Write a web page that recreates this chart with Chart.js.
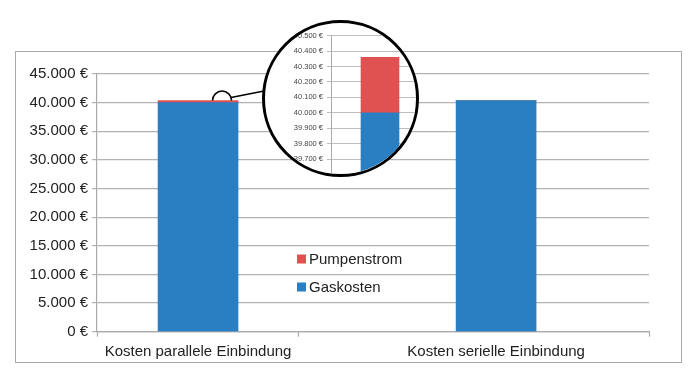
<!DOCTYPE html>
<html>
<head>
<meta charset="utf-8">
<script src="https://cdn.jsdelivr.net/npm/chart.js@4.4.1/dist/chart.umd.min.js"></script>
<style>
  body { margin: 0; background: #fff; }
  #wrap { position: relative; width: 700px; height: 378px; }
  #frame { position: absolute; left: 15px; top: 51px; width: 665px; height: 310px; border: 1.5px solid #aaa; }
  #main { position: absolute; left: 0; top: 0; }
  #lupe { position: absolute; left: 262px; top: 20px; width: 151px; height: 151px; border: 3px solid #000;
          border-radius: 50%; overflow: hidden; background: #fff; }
  #inset { position: absolute; left: 0; top: 0; }
</style>
</head>
<body>
<div id="wrap">
  <div id="frame"></div>
  <canvas id="main" width="700" height="378"></canvas>
  <div id="lupe"><canvas id="inset" width="164" height="160"></canvas></div>
</div>
<script>
// Daten
const categories = ['Kosten parallele Einbindung', 'Kosten serielle Einbindung'];
const gaskosten = [40000, 40350];
const pumpenstrom = [360, 0];
const mainTicks = [0, 5000, 10000, 15000, 20000, 25000, 30000, 35000, 40000, 45000];
const insetTicks = [39600, 39700, 39800, 39900, 40000, 40100, 40200, 40300, 40400, 40500];

const slots = [1, 2];          // Position der Balken auf der x-Achse
const xMin = 0.661, xMax = 2.513, xMid = 1.336;

const blue = '#2a7fc2';
const red = '#e05252';
const font = "'Liberation Sans', Arial, sans-serif";

const euro = v => v.toLocaleString('de-DE') + ' €';

// Legende im Diagramm (Pumpenstrom oben)
const legendPlugin = {
    id: 'innerLegend',
    afterDraw(chart) {
        const ctx = chart.ctx;
        const items = chart.data.datasets.slice().reverse();
        ctx.save();
        ctx.font = '15px ' + font;
        ctx.textBaseline = 'middle';
        items.forEach((ds, i) => {
            const y = 259 + i * 28;
            ctx.fillStyle = ds.backgroundColor;
            ctx.fillRect(297, y - 4.5, 9, 9);
            ctx.fillStyle = '#222';
            ctx.fillText(ds.label, 309, y + 1);
        });
        ctx.restore();
    }
};

// kleiner Kreis + Linie zur Lupe
const connectorPlugin = {
    id: 'connector',
    afterDraw(chart) {
        const ctx = chart.ctx;
        const x = chart.scales.x.getPixelForValue(slots[0]) + 24;
        const y = chart.scales.y.getPixelForValue(gaskosten[0] + pumpenstrom[0]);
        ctx.save();
        ctx.strokeStyle = '#000';
        ctx.lineWidth = 1.5;
        ctx.beginPath();
        ctx.arc(x, y, 9.5, Math.PI, 2 * Math.PI);
        ctx.stroke();
        ctx.beginPath();
        ctx.moveTo(x + 9, y - 3);
        ctx.lineTo(264, 91);
        ctx.stroke();
        ctx.restore();
    }
};

const mainChart = new Chart(document.getElementById('main'), {
    type: 'bar',
    data: {
        datasets: [{
            label: 'Gaskosten',
            data: slots.map((s, i) => ({ x: s, y: gaskosten[i] })),
            backgroundColor: blue,
            barThickness: 80
        }, {
            label: 'Pumpenstrom',
            data: slots.map((s, i) => ({ x: s, y: pumpenstrom[i] })),
            backgroundColor: red,
            barThickness: 80
        }]
    },
    options: {
        responsive: false,
        animation: false,
        layout: { padding: { left: 0, right: 51, top: 74, bottom: 0 } },
        plugins: { legend: { display: false }, tooltip: { enabled: false } },
        scales: {
            x: {
                type: 'linear',
                stacked: true,
                offset: false,
                min: xMin,
                max: xMax,
                afterBuildTicks: scale => {
                    scale.ticks = [xMin, slots[0], xMid, slots[1], xMax].map(v => ({ value: v }));
                },
                afterFit: scale => { scale.height = 46.3; },
                grid: {
                    offset: false,
                    drawOnChartArea: false,
                    drawTicks: true,
                    tickLength: 5,
                    tickWidth: 1.2,
                    tickColor: c => (c.tick && slots.includes(c.tick.value)) ? 'rgba(0,0,0,0)' : '#aaa'
                },
                border: { display: true, color: '#aaa', width: 1.2 },
                ticks: {
                    autoSkip: false,
                    maxRotation: 0,
                    padding: 6,
                    color: '#222',
                    font: { family: font, size: 15 },
                    callback: v => {
                        const i = slots.indexOf(v);
                        return i >= 0 ? categories[i] : '';
                    }
                }
            },
            y: {
                stacked: true,
                min: mainTicks[0],
                max: mainTicks[mainTicks.length - 1],
                afterBuildTicks: scale => { scale.ticks = mainTicks.map(v => ({ value: v })); },
                afterFit: scale => { scale.width = 97; },
                grid: { color: '#b3b3b3', lineWidth: 1.2, tickLength: 5 },
                border: { display: true, color: '#aaa', width: 1.2 },
                ticks: {
                    padding: 4,
                    color: '#222',
                    font: { family: font, size: 15 },
                    callback: v => euro(v)
                }
            }
        }
    },
    plugins: [legendPlugin, connectorPlugin]
});

// Lupe: Ausschnitt der parallelen Einbindung
const insetChart = new Chart(document.getElementById('inset'), {
    type: 'bar',
    data: {
        labels: [categories[0]],
        datasets: [{
            label: 'Gaskosten',
            data: [gaskosten[0]],
            backgroundColor: blue,
            barThickness: 38
        }, {
            label: 'Pumpenstrom',
            data: [pumpenstrom[0]],
            backgroundColor: red,
            barThickness: 38
        }]
    },
    options: {
        responsive: false,
        animation: false,
        layout: { padding: { left: 0, right: 0, top: 12.7, bottom: 3.7 } },
        plugins: { legend: { display: false }, tooltip: { enabled: false } },
        scales: {
            x: { stacked: true, display: false },
            y: {
                stacked: true,
                min: insetTicks[0],
                max: insetTicks[insetTicks.length - 1],
                afterBuildTicks: scale => { scale.ticks = insetTicks.map(v => ({ value: v })); },
                afterFit: scale => { scale.width = 66; },
                grid: { color: '#bdbdbd', lineWidth: 1, tickLength: 4 },
                border: { display: true, color: '#aaa', width: 1 },
                ticks: {
                    padding: 4,
                    color: '#444',
                    font: { family: font, size: 7.5 },
                    callback: v => euro(v)
                }
            }
        }
    }
});
</script>
</body>
</html>
